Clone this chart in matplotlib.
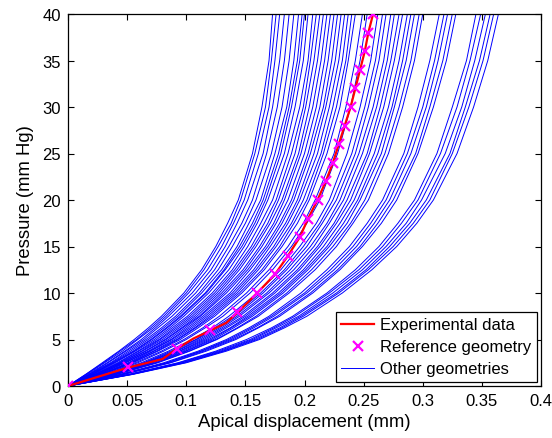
import numpy as np
import matplotlib
matplotlib.use('Agg')
import matplotlib.pyplot as plt

plt.rcParams['font.family'] = ['Liberation Sans', 'DejaVu Sans']

# pressure levels (mm Hg) where every simulated geometry is sampled
pres_levels = [0, 1.25, 2.5, 3.75, 5, 6.25, 7.5, 10, 12.5, 15, 17.5, 20, 25, 30, 35, 40]

# apical displacement of the other geometries, in micrometres, one row per geometry
geom_disp_um = [
    [0, 15, 29, 43, 56, 68, 79, 98, 113, 125, 135, 144, 156, 164, 170, 173],
    [0, 15, 30, 44, 58, 70, 81, 100, 115, 127, 138, 146, 158, 167, 172, 176],
    [0, 16, 31, 46, 59, 72, 83, 102, 118, 130, 140, 149, 161, 170, 175, 179],
    [0, 17, 33, 48, 62, 74, 85, 105, 121, 133, 143, 152, 165, 173, 179, 183],
    [0, 18, 34, 49, 64, 76, 88, 108, 124, 136, 147, 156, 168, 177, 183, 187],
    [0, 18, 36, 51, 66, 79, 91, 111, 127, 139, 150, 159, 172, 181, 187, 191],
    [0, 19, 37, 53, 68, 81, 93, 113, 130, 143, 153, 163, 175, 185, 191, 195],
    [0, 20, 38, 55, 70, 83, 95, 116, 132, 145, 156, 165, 178, 187, 194, 198],
    [0, 20, 39, 56, 71, 84, 96, 117, 133, 147, 158, 167, 180, 189, 196, 200],
    [0, 21, 40, 57, 73, 86, 98, 119, 136, 149, 160, 169, 183, 192, 199, 203],
    [0, 22, 42, 59, 75, 88, 101, 122, 139, 152, 163, 173, 186, 196, 203, 207],
    [0, 23, 43, 60, 77, 90, 103, 124, 141, 155, 166, 176, 189, 199, 205, 210],
    [0, 23, 44, 62, 78, 92, 105, 126, 143, 157, 169, 178, 192, 201, 208, 213],
    [0, 24, 45, 63, 80, 94, 107, 128, 145, 159, 171, 181, 195, 204, 211, 216],
    [0, 24, 46, 65, 82, 96, 109, 130, 148, 162, 174, 183, 197, 207, 214, 219],
    [0, 25, 47, 66, 83, 97, 111, 132, 150, 164, 176, 186, 200, 210, 217, 222],
    [0, 26, 48, 68, 85, 99, 112, 134, 152, 167, 179, 189, 203, 213, 220, 225],
    [0, 26, 49, 69, 87, 101, 114, 137, 154, 169, 181, 191, 205, 216, 223, 228],
    [0, 27, 51, 70, 88, 103, 116, 139, 157, 171, 184, 194, 208, 218, 226, 231],
    [0, 28, 52, 72, 90, 105, 118, 141, 159, 174, 186, 196, 211, 221, 229, 234],
    [0, 28, 53, 73, 92, 107, 120, 143, 161, 176, 189, 199, 214, 224, 232, 237],
    [0, 29, 54, 75, 93, 108, 122, 145, 164, 179, 191, 202, 216, 227, 235, 240],
    [0, 29, 55, 76, 95, 110, 124, 147, 166, 181, 194, 204, 219, 230, 237, 243],
    [0, 31, 57, 79, 98, 114, 128, 151, 170, 186, 199, 209, 225, 235, 243, 249],
    [0, 32, 59, 81, 100, 116, 131, 154, 173, 189, 202, 213, 228, 239, 247, 253],
    [0, 33, 62, 85, 105, 122, 136, 160, 180, 196, 210, 221, 236, 247, 256, 262],
    [0, 34, 64, 87, 108, 124, 139, 163, 183, 199, 213, 224, 240, 251, 260, 266],
    [0, 35, 65, 89, 109, 126, 141, 165, 185, 202, 215, 227, 243, 254, 263, 269],
    [0, 36, 66, 91, 111, 128, 143, 168, 188, 205, 219, 230, 246, 258, 267, 273],
    [0, 36, 67, 92, 113, 130, 145, 170, 191, 208, 221, 233, 249, 261, 270, 276],
    [0, 37, 69, 94, 115, 132, 148, 173, 194, 211, 225, 236, 253, 264, 273, 280],
    [0, 38, 70, 95, 117, 134, 150, 175, 196, 213, 227, 239, 255, 267, 276, 283],
    [0, 39, 71, 97, 119, 137, 152, 178, 199, 216, 230, 242, 259, 271, 280, 287],
    [0, 39, 72, 99, 121, 138, 154, 180, 201, 219, 233, 245, 262, 274, 283, 290],
    [0, 40, 74, 100, 123, 140, 156, 182, 203, 221, 236, 247, 265, 276, 286, 293],
    [0, 41, 75, 102, 125, 143, 159, 185, 206, 224, 239, 251, 268, 280, 290, 297],
    [0, 41, 76, 103, 126, 144, 161, 187, 209, 227, 241, 254, 271, 283, 293, 300],
    [0, 44, 81, 110, 134, 153, 170, 197, 219, 238, 253, 266, 284, 296, 306, 314],
    [0, 45, 83, 112, 136, 155, 172, 200, 222, 241, 256, 269, 287, 300, 310, 318],
    [0, 46, 84, 113, 138, 157, 174, 202, 225, 244, 259, 272, 290, 303, 313, 321],
    [0, 47, 86, 115, 140, 160, 177, 205, 228, 247, 262, 275, 294, 306, 317, 325],
    [0, 47, 87, 117, 142, 161, 179, 207, 230, 249, 265, 278, 296, 309, 320, 328],
    [0, 51, 93, 125, 151, 172, 190, 219, 243, 263, 279, 293, 312, 325, 337, 345],
    [0, 52, 94, 127, 154, 174, 192, 221, 246, 266, 282, 296, 315, 329, 340, 349],
    [0, 53, 96, 129, 156, 176, 195, 224, 249, 269, 286, 299, 319, 333, 344, 353],
    [0, 54, 97, 131, 158, 179, 197, 227, 252, 272, 289, 303, 323, 336, 348, 357],
    [0, 54, 99, 132, 160, 181, 199, 229, 254, 275, 292, 306, 325, 339, 351, 360],
    [0, 55, 100, 134, 162, 183, 202, 232, 257, 278, 295, 309, 329, 343, 355, 364],
]

# experimental pressure-displacement curve (mm, mm Hg)
exp_disp = [0, 0.050, 0.080, 0.092, 0.106, 0.121, 0.134, 0.145, 0.160, 0.175, 0.186, 0.196, 0.203,
            0.211, 0.218, 0.224, 0.229, 0.234, 0.239, 0.243, 0.247, 0.251, 0.254, 0.258]
exp_pres = [0, 1.95, 2.9, 4.0, 5.1, 6.0, 6.8, 8.1, 10, 12, 14, 16, 18, 20, 22, 24, 26, 28, 30,
            32, 34, 36, 38, 40]

# reference geometry results
ref_disp = [0, 0.051, 0.092, 0.120, 0.143, 0.160, 0.175, 0.186, 0.196, 0.203, 0.211,
            0.218, 0.224, 0.229, 0.234, 0.239, 0.243, 0.247, 0.251, 0.254, 0.258]
ref_pres = [0, 2, 4, 6, 8, 10, 12, 14, 16, 18, 20, 22, 24, 26, 28, 30, 32, 34, 36, 38, 40]

xtick_labels = ['0', '0.05', '0.1', '0.15', '0.2', '0.25', '0.3', '0.35', '0.4']

fig = plt.figure(figsize=(5.52, 4.39), dpi=100)
ax = fig.add_axes([68/552, 1-387/439, 473/552, 372/439])

# other geometries (thin blue)
for row in geom_disp_um:
    h3, = ax.plot(np.array(row) / 1000.0, pres_levels, color='#0000ff', lw=0.7, zorder=1)

h1, = ax.plot(exp_disp, exp_pres, color='red', lw=1.6, zorder=3)
h2, = ax.plot(ref_disp, ref_pres, ls='none', marker='x', ms=7, mew=1.6, color='#ff00ff', zorder=4)

ax.set_xlim(0, 0.4)
ax.set_ylim(0, 40)
ax.set_xticks(np.arange(0, 0.41, 0.05))
ax.set_xticklabels(xtick_labels)
ax.set_yticks(range(0, 41, 5))
ax.tick_params(direction='in', length=4, width=0.8, top=True, right=True, labelsize=12, pad=5)
for s in ax.spines.values():
    s.set_linewidth(0.9)

ax.set_xlabel('Apical displacement (mm)', fontsize=13.3, labelpad=4)
ax.set_ylabel('Pressure (mm Hg)', fontsize=13.3, labelpad=6)

leg = ax.legend([h1, h2, h3], ['Experimental data', 'Reference geometry', 'Other geometries'],
                loc='lower right', fontsize=12, fancybox=False, framealpha=1, edgecolor='black',
                borderaxespad=0.25, handlelength=2.0, handletextpad=0.35, labelspacing=0.42,
                borderpad=0.32)
leg.get_frame().set_linewidth(0.9)

fig.savefig('out.png')
